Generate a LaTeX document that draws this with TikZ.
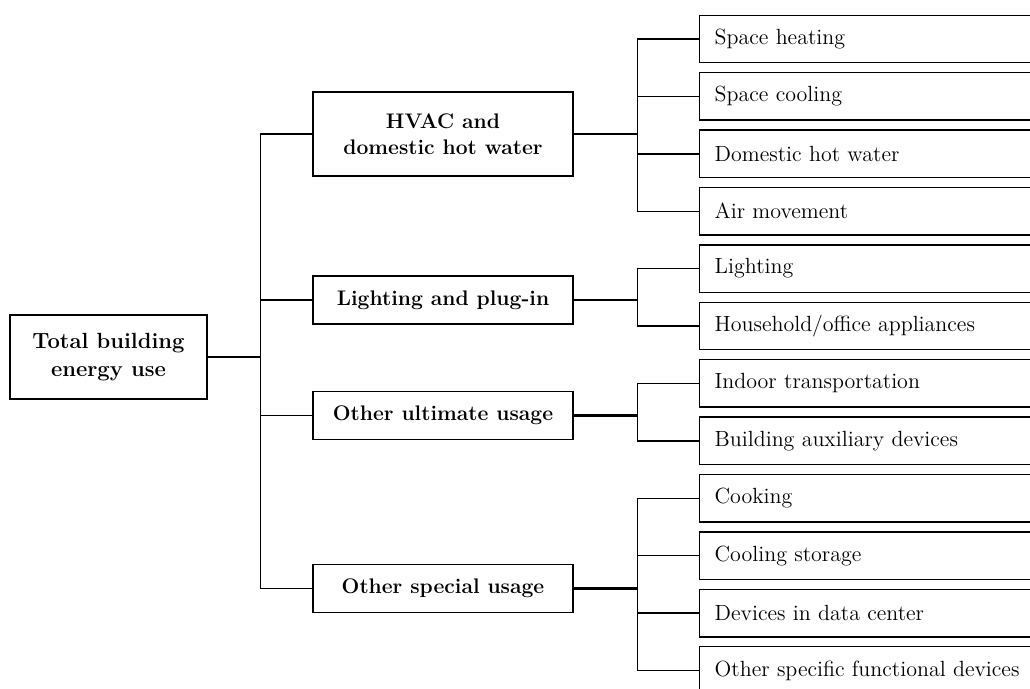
\documentclass[tikz,border=0pt]{standalone}
\usepackage{tikz}
\usetikzlibrary{positioning}

\begin{document}
\begin{tikzpicture}[
    node distance=0.17cm,
    box/.style={draw, line width=0.8pt, inner sep=0pt, align=center},
    rootbox/.style={box, minimum width=3.94cm, minimum height=1.68cm, font=\fontsize{12.5}{16}\selectfont\bfseries},
    usebox/.style={box, minimum width=5.2cm, font=\fontsize{12}{15}\selectfont\bfseries},
    leaf/.style={draw, line width=0.8pt, anchor=west, text width=7.6cm, inner xsep=0.3cm, inner ysep=0pt, minimum height=0.95cm, align=left, font=\fontsize{12.5}{15}\selectfont},
    link/.style={line width=0.8pt},
    trunk/.style={line width=1.2pt}
]

% Frame
\clip (0,0) rectangle (20.6,-13.78);

% Root
\node[rootbox] (total) at (2.17,-7.14) {Total building\\energy use};

% Usage groups
\node[usebox, minimum height=1.68cm] (hvac) at (8.86,-2.68) {HVAC and\\domestic hot water};
\node[usebox, minimum height=0.96cm] (light) at (8.86,-6.0) {Lighting and plug-in};
\node[usebox, minimum height=0.96cm] (ultimate) at (8.86,-8.31) {Other ultimate usage};
\node[usebox, minimum height=0.96cm] (special) at (8.86,-11.77) {Other special usage};

% Items
\node[leaf] (heat) at (13.98,-0.78) {Space heating};
\node[leaf, below=of heat] (cool) {Space cooling};
\node[leaf, below=of cool] (dhw) {Domestic hot water};
\node[leaf, below=of dhw] (air) {Air movement};
\node[leaf, below=of air] (lamp) {Lighting};
\node[leaf, below=of lamp] (appl) {Household/office appliances};
\node[leaf, below=of appl] (trans) {Indoor transportation};
\node[leaf, below=of trans] (aux) {Building auxiliary devices};
\node[leaf, below=of aux] (cook) {Cooking};
\node[leaf, below=of cook] (store) {Cooling storage};
\node[leaf, below=of store] (data) {Devices in data center};
\node[leaf, below=of data] (func) {Other specific functional devices};

% Trunk
\draw[trunk] (total.east) -- ++(1.06,0) coordinate (j0);
\foreach \g in {hvac,light,ultimate,special}
    \draw[link] (j0) |- (\g.west);

% Branches
\draw[trunk] (hvac.east) -- ++(1.28,0) coordinate (j1);
\foreach \l in {heat,cool,dhw,air}
    \draw[link] (j1) |- (\l.west);
\draw[trunk] (light.east) -- ++(1.28,0) coordinate (j2);
\foreach \l in {lamp,appl}
    \draw[link] (j2) |- (\l.west);
\draw[trunk] (ultimate.east) -- ++(1.28,0) coordinate (j3);
\foreach \l in {trans,aux}
    \draw[link] (j3) |- (\l.west);
\draw[trunk] (special.east) -- ++(1.28,0) coordinate (j4);
\foreach \l in {cook,store,data,func}
    \draw[link] (j4) |- (\l.west);

\end{tikzpicture}
\end{document}
